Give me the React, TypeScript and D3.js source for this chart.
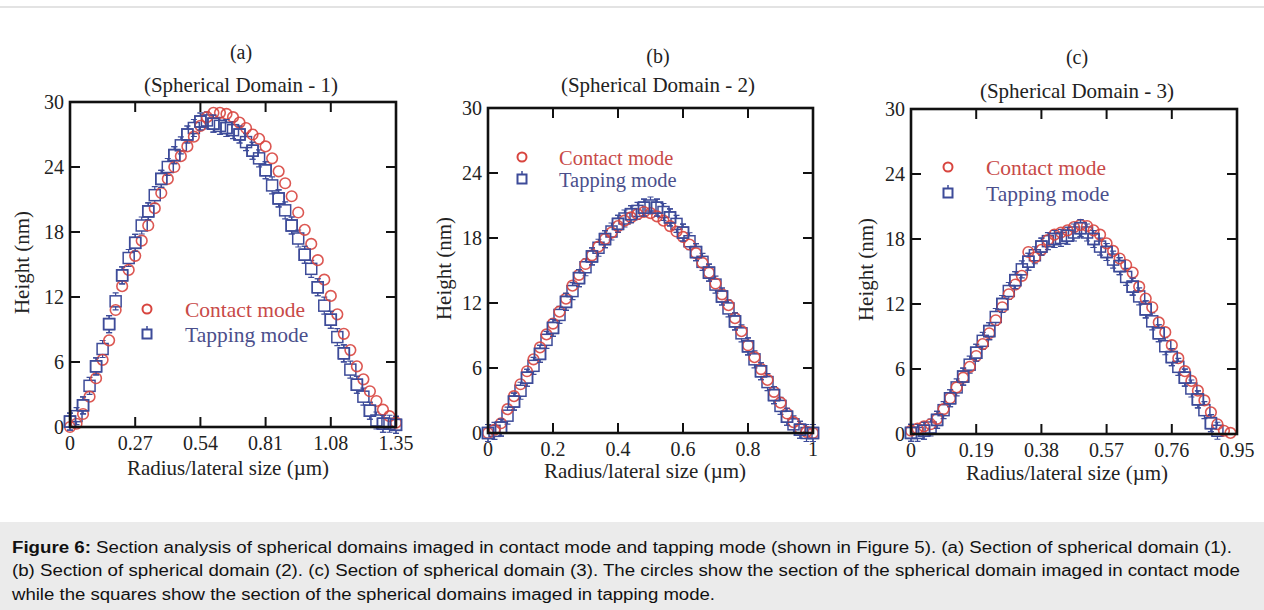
import React, { useEffect, useRef } from 'react';
import * as d3 from 'd3';

// ---- data ----
const xA = [0, 0.027, 0.054, 0.081, 0.108, 0.135, 0.162, 0.189, 0.216, 0.243, 0.27, 0.297, 0.324, 0.351, 0.378, 0.405, 0.432, 0.459, 0.486, 0.513, 0.54, 0.567, 0.594, 0.621, 0.648, 0.675, 0.702, 0.729, 0.756, 0.783, 0.81, 0.837, 0.864, 0.891, 0.918, 0.945, 0.972, 0.999, 1.026, 1.053, 1.08, 1.107, 1.134, 1.161, 1.188, 1.215, 1.242, 1.269, 1.296, 1.323, 1.35];
const contactA = [0, 0.3, 1.2, 2.8, 4.5, 6.2, 8.0, 10.8, 13.0, 14.5, 15.8, 17.2, 18.6, 20.2, 21.6, 22.9, 24.0, 25.0, 25.9, 26.8, 27.8, 28.6, 29.0, 29.0, 28.9, 28.6, 28.1, 27.6, 27.0, 26.6, 25.9, 24.8, 23.6, 22.5, 21.3, 19.8, 18.2, 16.9, 15.4, 13.6, 12.1, 10.4, 8.6, 7.1, 5.6, 4.4, 3.3, 2.4, 1.6, 1.0, 0.4];
const tappingA = [0.5, 1.0, 2.0, 3.8, 5.6, 7.2, 9.5, 11.6, 14.0, 15.6, 17.0, 18.6, 19.9, 21.4, 22.9, 24.0, 25.1, 26.0, 27.0, 27.6, 28.2, 28.3, 28.0, 27.8, 27.6, 27.4, 27.0, 26.3, 25.5, 24.8, 23.7, 22.3, 21.1, 20.0, 18.6, 17.4, 15.9, 14.6, 12.9, 11.2, 9.9, 8.3, 6.8, 5.3, 3.9, 2.8, 1.5, 0.6, 0.3, 0.3, 0.2];

const xB = [0, 0.02, 0.04, 0.06, 0.08, 0.1, 0.12, 0.14, 0.16, 0.18, 0.2, 0.22, 0.24, 0.26, 0.28, 0.3, 0.32, 0.34, 0.36, 0.38, 0.4, 0.42, 0.44, 0.46, 0.48, 0.5, 0.52, 0.54, 0.56, 0.58, 0.6, 0.62, 0.64, 0.66, 0.68, 0.7, 0.72, 0.74, 0.76, 0.78, 0.8, 0.82, 0.84, 0.86, 0.88, 0.9, 0.92, 0.94, 0.96, 0.98, 1.0];
const contactB = [0, 0.3, 0.9, 2.2, 3.4, 4.5, 5.7, 6.8, 7.9, 9.1, 10.1, 11.2, 12.4, 13.6, 14.6, 15.6, 16.4, 17.2, 17.9, 18.5, 19.1, 19.6, 19.9, 20.2, 20.4, 20.3, 20.0, 19.6, 19.1, 18.6, 18.1, 17.4, 16.6, 15.7, 14.8, 13.8, 12.8, 11.8, 10.6, 9.4, 8.1, 7.0, 5.9, 4.9, 3.8, 2.8, 1.8, 1.0, 0.4, 0.1, 0];
const tappingB = [0, 0.2, 0.5, 1.6, 2.9, 3.9, 5.1, 6.2, 7.3, 8.6, 9.7, 10.9, 12.1, 13.1, 14.3, 15.3, 16.3, 17.1, 17.9, 18.6, 19.3, 19.8, 20.2, 20.5, 20.8, 21.0, 20.8, 20.4, 19.9, 19.3, 18.5, 17.7, 16.7, 15.8, 14.8, 13.7, 12.6, 11.5, 10.3, 9.2, 8.0, 6.8, 5.7, 4.7, 3.5, 2.5, 1.5, 0.8, 0.3, 0, 0];

const xC = [0, 0.019, 0.038, 0.057, 0.076, 0.095, 0.114, 0.133, 0.152, 0.171, 0.19, 0.209, 0.228, 0.247, 0.266, 0.285, 0.304, 0.323, 0.342, 0.361, 0.38, 0.399, 0.418, 0.437, 0.456, 0.475, 0.494, 0.513, 0.532, 0.551, 0.57, 0.589, 0.608, 0.627, 0.646, 0.665, 0.684, 0.703, 0.722, 0.741, 0.76, 0.779, 0.798, 0.817, 0.836, 0.855, 0.874, 0.893, 0.912, 0.931];
const contactC = [0.3, 0.5, 0.7, 0.9, 1.4, 2.3, 3.3, 4.3, 5.2, 6.2, 7.2, 8.3, 9.3, 10.5, 11.7, 12.9, 13.8, 14.6, 16.8, 16.3, 17.0, 17.9, 18.4, 18.6, 18.8, 19.1, 19.3, 19.2, 18.8, 18.4, 17.6, 16.9, 16.2, 15.6, 14.9, 13.6, 12.5, 11.7, 10.3, 9.4, 8.2, 7.0, 5.8, 4.9, 4.0, 3.1, 2.0, 0.9, 0.3, 0.1];
const tappingC = [0.1, 0.1, 0.3, 0.6, 1.3, 2.2, 3.3, 4.3, 5.3, 6.4, 7.5, 8.6, 9.5, 10.8, 12.0, 13.2, 14.2, 15.2, 15.9, 16.5, 17.3, 17.8, 18.0, 18.1, 18.3, 18.6, 19.0, 18.6, 18.0, 17.3, 16.8, 16.1, 15.5, 14.5, 13.6, 12.7, 11.5, 10.4, 9.3, 8.1, 7.1, 6.2, 5.2, 4.2, 3.2, 2.2, 1.0, 0.3];

const xTicksA = [0, 0.27, 0.54, 0.81, 1.08, 1.35];
const xTicksB = [0, 0.2, 0.4, 0.6, 0.8, 1];
const xTicksC = [0, 0.19, 0.38, 0.57, 0.76, 0.95];
const yTicks = [0, 6, 12, 18, 24, 30];

const seriesNames = ['Contact mode', 'Tapping mode'];
const panelLetters = ['(a)', '(b)', '(c)'];
const panelTitles = ['(Spherical Domain - 1)', '(Spherical Domain - 2)', '(Spherical Domain - 3)'];
const caption = [
  'Section analysis of spherical domains imaged in contact mode and tapping mode (shown in Figure 5). (a) Section of spherical domain (1).',
  '(b) Section of spherical domain (2). (c) Section of spherical domain (3). The circles show the section of the spherical domain imaged in contact mode',
  'while the squares show the section of the spherical domains imaged in tapping mode.',
];

const RED = '#d8453f';
const BLUE = '#3d4b99';
const RED_TXT = '#c84a48';
const BLUE_TXT = '#4b4f8c';
const INK = '#222';
const SERIF = '"Liberation Serif", "Times New Roman", serif';

const panels = [
  { xs: xA, c: contactA, t: tappingA, xMax: 1.35, ticks: xTicksA, legendSize: 21.5,
    box: [70, 102, 396, 427], letterY: 52, titleY: 85, titleX: 241, xlabX: 228, xlabY: 468, ylabX: 22, legend: [147, 309, 185, 334] },
  { xs: xB, c: contactB, t: tappingB, xMax: 1, ticks: xTicksB, legendSize: 20.5,
    box: [488, 108, 813, 433], letterY: 56, titleY: 85, titleX: 658, xlabX: 645, xlabY: 471, ylabX: 444, legend: [522, 157, 559, 179] },
  { xs: xC, c: contactC, t: tappingC, xMax: 0.95, ticks: xTicksC, legendSize: 21.5,
    box: [911, 109, 1237, 434], letterY: 57, titleY: 91, titleX: 1077, xlabX: 1067, xlabY: 473, ylabX: 866, legend: [948, 167, 986, 193] },
];

function drawSquare(g: any, x: number, y: number) {
  const s = 5.5;
  g.append('rect').attr('x', x - s).attr('y', y - s).attr('width', 2 * s).attr('height', 2 * s)
    .attr('fill', 'none').attr('stroke', BLUE).attr('stroke-width', 1.5);
  g.append('path')
    .attr('d', `M${x},${y - s - 3}V${y - s}M${x},${y + s}V${y + s + 3}M${x - 3},${y - s - 3}H${x + 3}M${x - 3},${y + s + 3}H${x + 3}`)
    .attr('stroke', BLUE).attr('stroke-width', 1.2).attr('fill', 'none');
}

function label(g: any, x: number, y: number, txt: string, size: number, anchor = 'middle', fill = INK) {
  return g.append('text').attr('x', x).attr('y', y).attr('text-anchor', anchor)
    .attr('dominant-baseline', 'central').attr('font-family', SERIF).attr('font-size', size)
    .attr('fill', fill).text(txt);
}

export default function App() {
  const ref = useRef<SVGSVGElement>(null);

  useEffect(() => {
    document.body.style.margin = '0';
    const svg = d3.select(ref.current);
    svg.selectAll('*').remove();

    svg.append('rect').attr('width', 1264).attr('height', 610).attr('fill', '#fff');
    svg.append('rect').attr('x', 0).attr('y', 6).attr('width', 1264).attr('height', 2).attr('fill', '#e3e3e3');

    panels.forEach((p, i) => {
      const [x0, y0, x1, y1] = p.box;
      const x = d3.scaleLinear().domain([0, p.xMax]).range([x0, x1]);
      const y = d3.scaleLinear().domain([0, 30]).range([y1, y0]);
      const g = svg.append('g');

      // squares under, circles over, then every other square again so both stay visible
      p.t.forEach((v, k) => drawSquare(g, x(p.xs[k]), y(v)));
      g.selectAll('circle.c').data(p.c).enter().append('circle')
        .attr('cx', (d, k) => x(p.xs[k])).attr('cy', d => y(d)).attr('r', 5.3)
        .attr('fill', 'none').attr('stroke', RED).attr('stroke-width', 1.6).attr('opacity', 0.9);
      p.t.forEach((v, k) => { if (k % 2 === 0) drawSquare(g, x(p.xs[k]), y(v)); });

      // frame + inward ticks
      g.append('rect').attr('x', x0).attr('y', y0).attr('width', x1 - x0).attr('height', y1 - y0)
        .attr('fill', 'none').attr('stroke', '#111').attr('stroke-width', 2.6);
      const tl = 10;
      p.ticks.forEach(t => {
        g.append('line').attr('x1', x(t)).attr('x2', x(t)).attr('y1', y1).attr('y2', y1 - tl).attr('stroke', '#111').attr('stroke-width', 2);
        g.append('line').attr('x1', x(t)).attr('x2', x(t)).attr('y1', y0).attr('y2', y0 + tl).attr('stroke', '#111').attr('stroke-width', 2);
        label(g, x(t), y1 + 16, String(t), 20);
      });
      yTicks.forEach(t => {
        g.append('line').attr('x1', x0).attr('x2', x0 + tl).attr('y1', y(t)).attr('y2', y(t)).attr('stroke', '#111').attr('stroke-width', 2);
        g.append('line').attr('x1', x1).attr('x2', x1 - tl).attr('y1', y(t)).attr('y2', y(t)).attr('stroke', '#111').attr('stroke-width', 2);
        label(g, x0 - 6, y(t), String(t), 20, 'end');
      });

      // titles and axis labels
      label(g, p.titleX, p.letterY, panelLetters[i], 20);
      label(g, p.titleX, p.titleY, panelTitles[i], 21);
      label(g, p.xlabX, p.xlabY, 'Radius/lateral size (\u00b5m)', 21);
      label(g, 0, 0, 'Height (nm)', 21).attr('x', null).attr('y', null)
        .attr('transform', `translate(${p.ylabX},${(y0 + y1) / 2 - 2}) rotate(-90)`);

      // legend
      const [mx, cy, tx, ty] = p.legend;
      g.append('circle').attr('cx', mx).attr('cy', cy).attr('r', 4.5).attr('fill', 'none').attr('stroke', RED).attr('stroke-width', 2);
      g.append('rect').attr('x', mx - 4.5).attr('y', ty - 4.5).attr('width', 9).attr('height', 9)
        .attr('fill', 'none').attr('stroke', BLUE).attr('stroke-width', 2);
      g.append('line').attr('x1', mx).attr('x2', mx).attr('y1', ty - 8).attr('y2', ty - 4.5).attr('stroke', BLUE).attr('stroke-width', 1.5);
      label(g, tx, cy + 1, seriesNames[0], p.legendSize, 'start', RED_TXT);
      label(g, tx, ty + 1, seriesNames[1], p.legendSize, 'start', BLUE_TXT);
    });

    // caption box
    svg.append('rect').attr('x', 0).attr('y', 522).attr('width', 1264).attr('height', 88).attr('fill', '#ebebeb');
    const cap = svg.append('g').attr('font-family', '"Liberation Sans", Arial, sans-serif').attr('font-size', 16).attr('fill', '#111');
    const first = cap.append('text').attr('x', 12).attr('y', 553).attr('textLength', 1220).attr('lengthAdjust', 'spacingAndGlyphs');
    first.append('tspan').attr('font-weight', 'bold').text('Figure 6: ');
    first.append('tspan').text(caption[0]);
    cap.append('text').attr('x', 12).attr('y', 576).attr('textLength', 1228).attr('lengthAdjust', 'spacingAndGlyphs').text(caption[1]);
    cap.append('text').attr('x', 12).attr('y', 600).attr('textLength', 703).attr('lengthAdjust', 'spacingAndGlyphs').text(caption[2]);
  }, []);

  return <svg ref={ref} width={1264} height={610} style={{ display: 'block' }} />;
}
